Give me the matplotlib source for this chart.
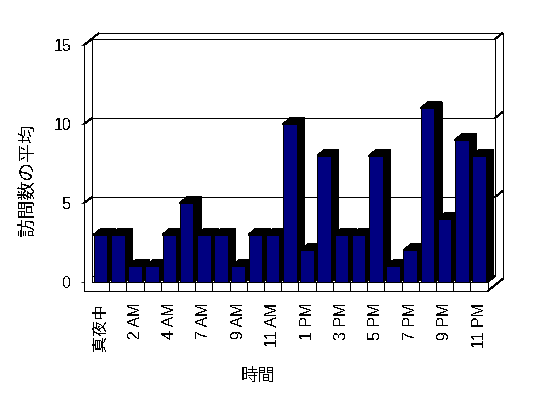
import matplotlib
matplotlib.use('Agg')
import matplotlib.pyplot as plt
from matplotlib.patches import Polygon

# average visits per hour (6 AM has no row in the source table)
hours = ['真夜中', '1 AM', '2 AM', '3 AM', '4 AM', '5 AM', '7 AM', '8 AM',
         '9 AM', '10 AM', '11 AM', '12 PM', '1 PM', '2 PM', '3 PM', '4 PM',
         '5 PM', '6 PM', '7 PM', '8 PM', '9 PM', '10 PM', '11 PM']
visits = [3, 3, 1, 1, 3, 5, 3, 3, 1, 3, 3, 10, 2, 8, 3, 3, 8, 1, 2, 11, 4, 9, 8]
y_ticks = [0, 5, 10, 15]
grid_values = [5, 10]

plt.rcParams['font.family'] = ['Liberation Sans', 'Noto Sans CJK JP']
plt.rcParams['text.antialiased'] = False
plt.rcParams['lines.antialiased'] = False
plt.rcParams['patch.antialiased'] = False

W, H = 548, 398
fig = plt.figure(figsize=(W / 100, H / 100), dpi=100)
fig.patch.set_facecolor('white')

# axes = front plane of the fake 3D box
ax_l, ax_r, ax_top, ax_bot = 92, 487.6, 45, 282
ax = fig.add_axes([ax_l / W, (H - ax_bot) / H, (ax_r - ax_l) / W, (ax_bot - ax_top) / H])
ax.set_facecolor('none')
n = len(visits)
ymax = y_ticks[-1]
ax.set_xlim(-0.5, n - 0.5)
ax.set_ylim(0, ymax)

# pixel sizes -> data units
px_x = (ax_r - ax_l) / n
px_y = (ax_bot - ax_top) / ymax
dx, dy = 7.5 / px_x, 6 / px_y      # depth step (right and up)
wall = 8 / px_x                    # left wall strip
floor = 9 / px_y                   # floor slab
LW = 0.6

x0, xr = -0.5, n - 0.5
L = x0 - wall

def seg(p, q, z=1):
    ax.plot([p[0], q[0]], [p[1], q[1]], color='black', lw=LW,
            clip_on=False, zorder=z, solid_capstyle='butt')

# walls and floor
seg((L, -floor), (xr, -floor))
seg((L, -floor), (L, ymax))
seg((x0, 0), (xr, 0))
seg((xr, -floor), (xr, 0))
seg((x0, 0), (x0, ymax + dy))
seg((L, ymax), (x0, ymax + dy))
seg((x0, ymax + dy), (xr + dx, ymax + dy))
seg((xr + dx, ymax + dy), (xr + dx, dy))
seg((L, ymax), (L + 2 * dx, ymax + 2 * dy))
seg((L + 2 * dx, ymax + 2 * dy), (xr + 2 * dx, ymax + 2 * dy))
seg((xr + dx, ymax + dy), (xr + 2 * dx, ymax + 2 * dy))
seg((xr + 2 * dx, ymax + 2 * dy), (xr + 2 * dx, -floor + 2 * dy))
seg((xr, -floor), (xr + 2 * dx, -floor + 2 * dy))
seg((xr, 0), (xr + dx, dy))
seg((x0, dy), (xr + dx, dy))
for k in range(n - 1):
    seg((k + 0.5, -floor), (k + 0.5, 0))

# gridlines on left wall, back wall and right edge
for v in grid_values:
    seg((L, v), (x0, v + dy))
    seg((x0, v + dy), (xr + dx, v + dy))
    seg((xr + dx, v + dy), (xr + 2 * dx, v + 2 * dy))

# bars: black side and top, navy front
bw = 0.8
for i, v in enumerate(visits):
    a, b = i - bw / 2, i + bw / 2
    ax.add_patch(Polygon([(b, 0), (b + dx, dy), (b + dx, v + dy), (b, v)],
                         closed=True, fc='black', ec='black', lw=LW,
                         clip_on=False, zorder=3))
    ax.add_patch(Polygon([(a, v), (a + dx, v + dy), (b + dx, v + dy), (b, v)],
                         closed=True, fc='black', ec='black', lw=LW,
                         clip_on=False, zorder=3))
ax.bar(range(n), visits, width=bw, color='#000080', edgecolor='black',
       linewidth=0.5, zorder=4, clip_on=False)

for s in ax.spines.values():
    s.set_visible(False)
ax.spines['left'].set_position(('outward', 8 * 0.72))
ax.set_yticks(y_ticks)
ax.tick_params(axis='y', length=2, width=LW, pad=7, labelsize=11.5)
ax.set_xticks(range(0, n, 2))
ax.set_xticklabels(hours[::2], rotation=90)
ax.tick_params(axis='x', length=0, pad=15, labelsize=11.5)

fig.text(29 / W, 1 - 180 / H, '訪問数の平均', rotation=90, ha='center',
         va='center', fontsize=13.5)
fig.text(258 / W, 1 - 376 / H, '時間', ha='center', va='center', fontsize=12.5)

fig.savefig('out.png', dpi=100, facecolor='white')
